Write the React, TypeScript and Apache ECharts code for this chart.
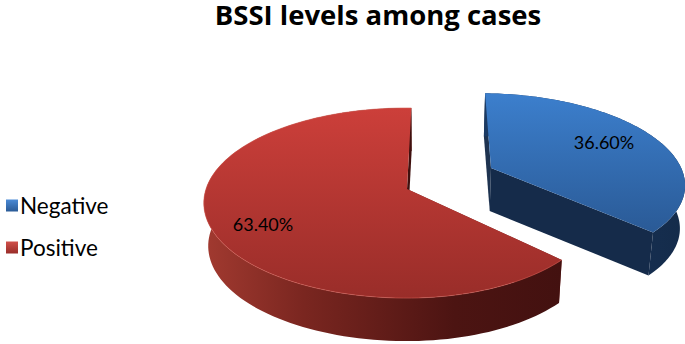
import React, { useEffect, useRef } from "react";
import * as echarts from "echarts";

const titleText = "BSSI levels among cases";
const categories = ["Negative", "Positive"];
const shares = [36.6, 63.4];
const shareLabels = ["36.60%", "63.40%"];

const FONT = "Lato, Carlito, 'Open Sans', sans-serif";
const CX = 407, CY = 189, RX_LEFT = 201, RX_RIGHT = 191, RY = 93, K = 0.1475, DEPTH = 43;
const BOTTOM_SCALE = 0.98, BOTTOM_X0 = 425;
const START = 1.5;

const grad = (x2: number, y2: number, stops: [number, string][]) =>
  new echarts.graphic.LinearGradient(0, 0, x2, y2, stops.map(([offset, color]) => ({ offset, color })));

const looks = [
  {
    offset: [0.455, -0.234],
    radius: [1.03, 0.98],
    top: [[0, "#3c7fcd"], [1, "#2a5a96"]] as [number, string][],
    wall: [[0, "#1b3a63"], [1, "#142b4a"]] as [number, string][],
    face: "#152b4a",
    back: "#1e3350",
    label: [604, 142],
    rim: "rgba(90,150,220,0.0)",
  },
  {
    offset: [0, 0],
    radius: [1, 1],
    top: [[0, "#cc3f3a"], [1, "#992d29"]] as [number, string][],
    wall: [[0, "#a23a30"], [0.28, "#7a2620"], [0.7, "#4c1412"], [1, "#431110"]] as [number, string][],
    face: "#3f100e",
    back: "#7a2824",
    label: [263, 224],
    rim: "rgba(215,95,85,0.55)",
  },
];

function project(u: number, v: number): [number, number] {
  const w = 1 - K * v;
  const rx = u < 0 ? RX_LEFT : RX_RIGHT;
  return [CX + (rx * u) / w, CY + (RY * v) / w];
}
const drop = (p: number[]): [number, number] => [
  BOTTOM_X0 + (p[0] - BOTTOM_X0) * BOTTOM_SCALE,
  p[1] + DEPTH,
];

function makeRenderItem(index: number) {
  return (_params: any, api: any) => {
    const look = looks[index];
    const total = shares.reduce((a, b) => a + b, 0);
    const before = shares.slice(0, index).reduce((a, b) => a + b, 0);
    const a0 = START + (before / total) * 360;
    const a1 = a0 + (Number(api.value(0)) / total) * 360;
    const [ou, ov] = look.offset;
    const apex = project(ou, ov);
    const rim: [number, number][] = [];
    const N = 120;
    for (let i = 0; i <= N; i++) {
      const t = ((a0 + ((a1 - a0) * i) / N) * Math.PI) / 180;
      rim.push(project(ou + look.radius[0] * Math.sin(t), ov - look.radius[1] * Math.cos(t)));
    }
    const first = rim[0];
    const last = rim[rim.length - 1];
    const wall = [...rim, ...rim.map(drop).reverse()];
    const children: any[] = [
      { type: "polygon", shape: { points: [first, apex, drop(apex), drop(first)] }, style: { fill: look.back } },
      { type: "polygon", shape: { points: wall }, style: { fill: grad(1, 0, look.wall) } },
      { type: "polygon", shape: { points: [apex, last, drop(last), drop(apex)] }, style: { fill: look.face } },
      { type: "polygon", shape: { points: [apex, ...rim] }, style: { fill: grad(0, 1, look.top) } },
      { type: "polyline", shape: { points: rim }, style: { fill: "none", stroke: look.rim, lineWidth: 1 } },
      {
        type: "text",
        style: {
          x: look.label[0],
          y: look.label[1],
          text: shareLabels[index],
          fill: "#000",
          font: `18px ${FONT}`,
          align: "center",
          verticalAlign: "middle",
        },
      },
    ];
    return { type: "group", children };
  };
}

export default function App() {
  const ref = useRef<HTMLDivElement>(null);
  useEffect(() => {
    document.body.style.margin = "0";
    const chart = echarts.init(ref.current!, undefined, { renderer: "svg" });
    chart.setOption({
      animation: false,
      backgroundColor: "#fff",
      title: {
        text: titleText,
        left: 378,
        top: 0,
        padding: 0,
        textAlign: "center",
        textStyle: { fontFamily: "'Open Sans', sans-serif", fontSize: 27.5, lineHeight: 28, fontWeight: "bold", color: "#000" },
      },
      legend: {
        orient: "vertical",
        left: 1,
        top: 189,
        itemWidth: 12,
        itemHeight: 12,
        itemGap: 19,
        textStyle: { fontFamily: FONT, fontSize: 22.5, color: "#000", padding: [0, 0, 0, -3] },
        data: [
          { name: categories[0], icon: "rect", itemStyle: { color: grad(0, 1, [[0, "#4a8ad6"], [1, "#2a5a96"]]) } },
          { name: categories[1], icon: "rect", itemStyle: { color: grad(0, 1, [[0, "#d0504a"], [1, "#992d29"]]) } },
        ],
      },
      series: categories.map((name, i) => ({
        type: "custom",
        name,
        coordinateSystem: "none",
        silent: true,
        data: [[shares[i]]],
        renderItem: makeRenderItem(i),
      })),
    });
    return () => chart.dispose();
  }, []);
  return <div ref={ref} style={{ width: 685, height: 344, position: "fixed", left: 0, top: 0 }} />;
}
